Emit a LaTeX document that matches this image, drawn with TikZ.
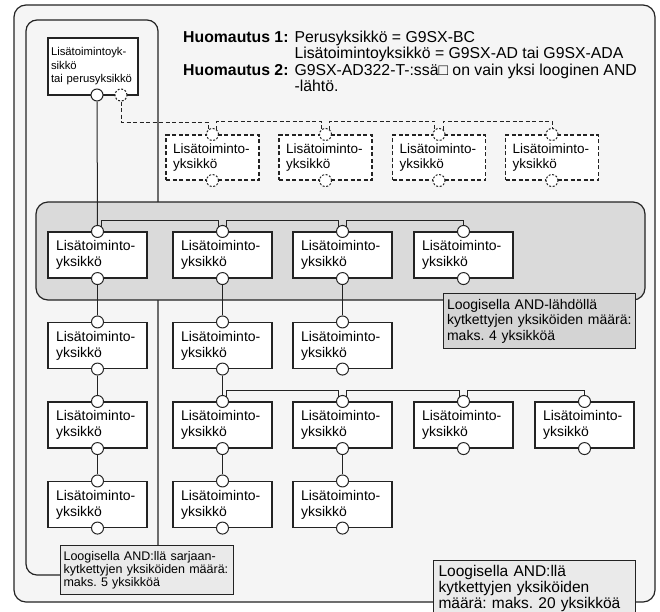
\documentclass[tikz,border=0pt]{standalone}
\usepackage{fontspec}
\setmainfont{Liberation Sans}
\usepackage{tikz}
\usetikzlibrary{positioning}
\definecolor{panelgray}{RGB}{245,245,245}
\definecolor{bandgray}{RGB}{218,218,218}
\definecolor{notegray}{RGB}{212,212,212}
\definecolor{hintgray}{RGB}{234,234,234}
\definecolor{inkblack}{RGB}{35,35,35}
\tikzset{
  unitbox/.style={
    draw=inkblack,line width=1.1pt,fill=white,align=left,text width=83pt,
    inner xsep=8pt,minimum height=46pt,font=\fontsize{14}{16}\selectfont
  },
  dashunit/.style={unitbox,dash pattern=on 4pt off 2.5pt,text width=79pt,
    inner xsep=7pt,minimum height=45pt,font=\fontsize{13.5}{15.5}\selectfont},
  basebox/.style={unitbox,text width=84pt,inner xsep=3pt,minimum height=57pt,
    font=\fontsize{11.3}{13.5}\selectfont},
  port/.style={circle,draw=inkblack,fill=white,line width=1pt,
    minimum size=12pt,inner sep=0pt},
  dashport/.style={port,dash pattern=on 2pt off 1.6pt},
  notebox/.style={draw=inkblack,line width=1.1pt,align=left,anchor=north west,
    inner ysep=4pt},
  wire/.style={draw=inkblack,line width=1pt},
  dashwire/.style={wire,dash pattern=on 4pt off 2.5pt},
  frame/.style={draw=inkblack,line width=1.2pt}
}

\begin{document}
\frenchspacing
\begin{tikzpicture}[x=1pt,y=-1pt]
  \useasboundingbox (0,0) rectangle (660,611);
  \clip (0,0) rectangle (660,611);
  \draw[frame,fill=panelgray,rounded corners=12pt] (14,5) rectangle (655,602);
  \draw[frame,rounded corners=11pt] (60,575) -- (26,575) -- (26,20) -- (158,20) -- (158,545);
  \draw[frame,fill=bandgray,rounded corners=12pt] (36,202) rectangle (645,300);

  \node[anchor=base west,inner sep=0pt,font=\fontsize{15.8}{16}\selectfont] (remarks) at (183,42.5)
    {\begin{tabular}[t]{@{}l@{\hspace{6pt}}l@{}}
      \textbf{Huomautus 1:} & Perusyksikkö = G9SX-BC\\
       & Lisätoimintoyksikkö = G9SX-AD tai G9SX-ADA\\
      \textbf{Huomautus 2:} & G9SX-AD322-T-:ssä□ on vain yksi looginen AND\\
       & -lähtö.
    \end{tabular}};

  \node[basebox] (base) at (93,66.5) {Lisätoimintoyk-\\sikkö\\tai perusyksikkö\par\vspace{9pt}};
  \node[port] (base-s) at (97,95) {};
  \node[dashport] (base-d) at (121,95) {};

  \foreach \n/\x in {e1/212.5,e2/325.5,e3/439,e4/552}{
    \node[dashunit] (\n) at (\x,157.5) {Lisätoiminto-\\yksikkö};
    \node[dashport] (\n-i) at (\n.north) {};
    \node[dashport] (\n-o) at (\n.south) {};
  }

  \foreach \n/\x/\y in {a1/97.5/255,a2/222.5/255,a3/342.5/255,a4/463.5/255,
      b1/97.5/345.5,b2/222.5/345.5,b3/342.5/345.5,
      c1/97.5/425,c2/222.5/425,c3/342.5/425,c4/463.5/425,c5/584.5/425,
      d1/97.5/504.5,d2/222.5/504.5,d3/342.5/504.5}{
    \node[unitbox] (\n) at (\x,\y) {Lisätoiminto-\\yksikkö};
    \node[port] (\n-i) at (\n.north) {};
    \node[port] (\n-o) at (\n.south) {};
  }

  \node[notebox,fill=notegray,text width=185pt,inner xsep=3.5pt,minimum height=55pt,
    font=\fontsize{14}{15.5}\selectfont] (maxand) at (443,293)
    {Loogisella AND-lähdöllä\\kytkettyjen yksiköiden määrä:\\maks. 4 yksikköä};
  \node[notebox,fill=hintgray,text width=167pt,inner xsep=3pt,minimum height=49pt,
    font=\fontsize{12.5}{13.2}\selectfont] (maxseries) at (60,545)
    {Loogisella AND:llä sarjaan-\\kytkettyjen yksiköiden määrä:\\maks. 5 yksikköä};
  \node[notebox,fill=hintgray,text width=192pt,inner xsep=5pt,minimum height=56pt,
    font=\fontsize{15.5}{16}\selectfont] (maxtotal) at (433,560)
    {Loogisella AND:llä\\kytkettyjen yksiköiden\\määrä: maks. 20 yksikköä};

  \draw[dashwire] (base-d) -- ++(0,27) -| (e1-i.132);
  \draw[dashwire] (e1-i.48) -- ++(0,-8.5) -| (e2-i.132);
  \draw[dashwire] (e2-i.48) -- ++(0,-8.5) -| (e3-i.132);
  \draw[dashwire] (e3-i.48) -- ++(0,-8.5) -| (e4-i);

  \draw[wire] (base-s) -- (a1-i);
  \draw[wire] (a1-i.48) -- ++(0,-6) -| (a2-i.132);
  \draw[wire] (a2-i.48) -- ++(0,-6) -| (a3-i.132);
  \draw[wire] (a3-i.48) -- ++(0,-6) -| (a4-i);
  \draw[wire] (a1-o) -- (b1-i);
  \draw[wire] (b1-o) -- (c1-i);
  \draw[wire] (c1-o) -- (d1-i);
  \draw[wire] (a2-o) -- (b2-i);
  \draw[wire] (b2-o) -- (c2-i);
  \draw[wire] (c2-o) -- (d2-i);
  \draw[wire] (a3-o) -- (b3-i);
  \draw[wire] (c3-o) -- (d3-i);
  \draw[wire] (c2-i.48) -- ++(0,-6) -| (c3-i.132);
  \draw[wire] (c3-i.48) -- ++(0,-6) -| (c4-i.132);
  \draw[wire] (c4-i.48) -- ++(0,-6) -| (c5-i);
\end{tikzpicture}
\end{document}
